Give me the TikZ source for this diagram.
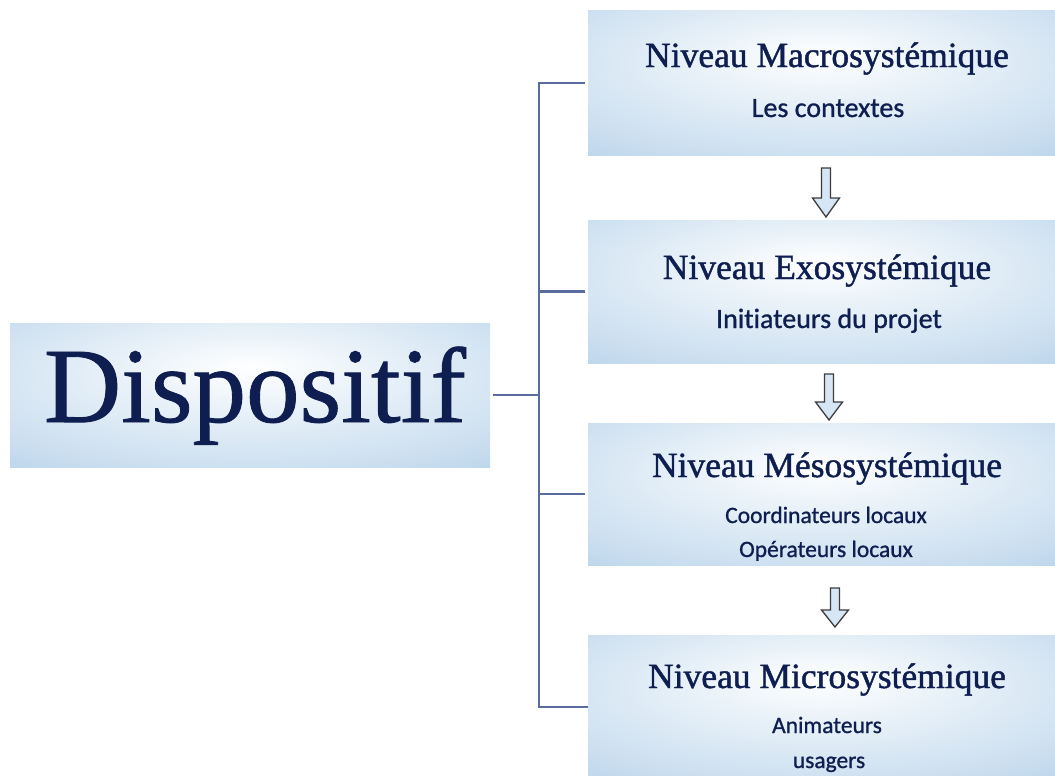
\documentclass[tikz,border=0pt]{standalone}
\usepackage{fontspec}
\setmainfont{Liberation Serif}
\newfontfamily\titlefont[FakeBold=1.2]{Liberation Serif}
\newfontfamily\bigfont[FakeBold=0.8]{Liberation Serif}
\newfontfamily\subfont[Ligatures=NoCommon,FakeBold=0.9]{Carlito}
\usetikzlibrary{calc}
\definecolor{edgeblue}{RGB}{168,201,229}
\definecolor{midblue}{RGB}{207,225,241}
\definecolor{paleblue}{RGB}{238,245,250}
\definecolor{navy}{RGB}{14,30,80}
\definecolor{linecol}{RGB}{88,108,160}
\definecolor{arrowfill}{RGB}{214,230,245}
\definecolor{arrowline}{RGB}{60,60,60}
\pgfdeclareradialshading{boxshade}{\pgfpoint{0bp}{10bp}}{color(0bp)=(white); color(10bp)=(paleblue); color(30bp)=(midblue); color(50bp)=(edgeblue); color(71bp)=(edgeblue)}
\begin{document}
\begin{tikzpicture}[x=1pt,y=-1pt,
  levelbox/.style={rectangle, shading=boxshade, draw=none, inner sep=0pt, minimum width=467pt},
  titletext/.style={anchor=base, inner sep=0pt, text=navy, font=\titlefont\fontsize{35.5}{40}\selectfont},
  subtext/.style={anchor=base, inner sep=0pt, text=navy, font=\subfont\fontsize{28}{32}\selectfont},
  smalltext/.style={anchor=base, inner sep=0pt, text=navy, font=\subfont\fontsize{23.5}{27}\selectfont},
  bracket/.style={draw=linecol, line width=2.4pt},
  hollow/.style={draw=arrowline, fill=arrowfill, line width=1.3pt, line join=miter}]
\useasboundingbox (0,0) rectangle (1055,776);
% main box
\node[rectangle, shading=boxshade, inner sep=0pt, minimum width=480pt, minimum height=144pt] (disp) at (250,395) {};
\node[anchor=base, inner sep=0pt, text=navy, font=\bigfont\fontsize{107}{112}\selectfont] (dispt) at (255,422) {Dispositif};
% level boxes
\node[levelbox, minimum height=144pt] (b1) at (821.5,83) {};
\node[levelbox, minimum height=143pt] (b2) at (821.5,291.5) {};
\node[levelbox, minimum height=142pt] (b3) at (821.5,494) {};
\node[levelbox, minimum height=144pt] (b4) at (821.5,707) {};
% texts
\node[titletext] (t1) at (827,67) {Niveau Macrosystémique};
\node[subtext] (s1) at (828,117) {Les contextes};
\node[titletext] (t2) at (827,279) {Niveau Exosystémique};
\node[subtext] (s2) at (829,328) {Initiateurs du projet};
\node[titletext] (t3) at (827,477) {Niveau Mésosystémique};
\node[smalltext] (s3a) at (826,523) {Coordinateurs locaux};
\node[smalltext] (s3b) at (826,557) {Opérateurs locaux};
\node[titletext] (t4) at (827,688) {Niveau Microsystémique};
\node[smalltext] (s4a) at (827,733) {Animateurs};
\node[smalltext] (s4b) at (829,768) {usagers};
% bracket connectors
\coordinate (j) at (539,395);
\draw[bracket, shorten <=3pt] (disp.east) -- (j);
\draw[bracket, shorten <=3pt] (b1.west) -- (b1.west -| j) -- (b4.west -| j) -- (b4.west);
\draw[bracket, shorten <=3pt] (b2.west) -- (b2.west -| j);
\draw[bracket, shorten <=3pt] (b3.west) -- (b3.west -| j);
% hollow arrows
\coordinate (a1) at (826,168);
\coordinate (a2) at (829,374);
\coordinate (a3) at (835,588);
\draw[hollow] (a1) ++(-4.5,0) -- ++(9,0) -- ++(0,30) -- ++(9,0) -- ++(-13.5,19) -- ++(-13.5,-19) -- ++(9,0) -- cycle;
\draw[hollow] (a2) ++(-4.5,0) -- ++(9,0) -- ++(0,28) -- ++(9,0) -- ++(-13.5,18) -- ++(-13.5,-18) -- ++(9,0) -- cycle;
\draw[hollow] (a3) ++(-4.5,0) -- ++(9,0) -- ++(0,22) -- ++(9,0) -- ++(-13.5,17) -- ++(-13.5,-17) -- ++(9,0) -- cycle;
\end{tikzpicture}
\end{document}
